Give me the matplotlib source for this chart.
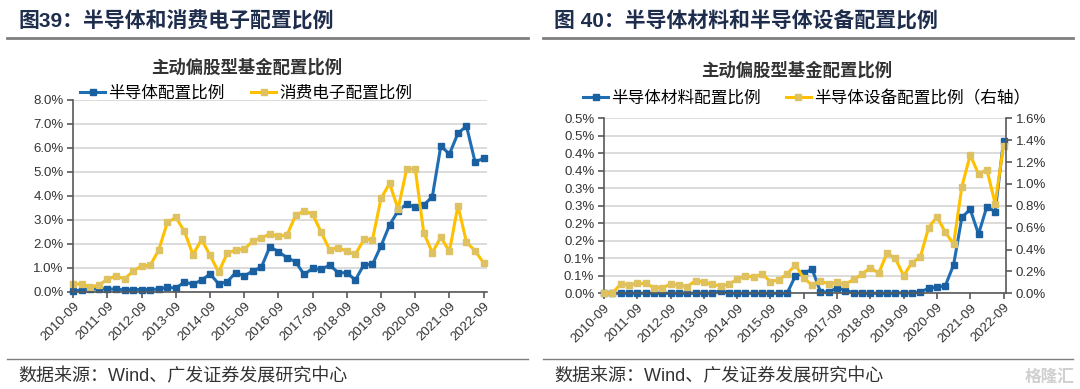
import numpy as np
import matplotlib.pyplot as plt
from matplotlib.lines import Line2D

plt.rcParams['font.family'] = ['Liberation Sans', 'Noto Sans CJK SC']

W, H = 1080, 389

dates = ['2010-09', '2011-09', '2012-09', '2013-09', '2014-09', '2015-09', '2016-09',
         '2017-09', '2018-09', '2019-09', '2020-09', '2021-09', '2022-09']

# 图39 (%)
semi = [0.03, 0.07, 0.10, 0.12, 0.12, 0.10, 0.08, 0.09, 0.09, 0.09,
        0.11, 0.18, 0.15, 0.40, 0.31, 0.48, 0.74, 0.33, 0.41, 0.80,
        0.65, 0.87, 1.02, 1.88, 1.67, 1.42, 1.25, 0.72, 0.97, 0.93,
        1.11, 0.79, 0.79, 0.49, 1.13, 1.14, 1.91, 2.78, 3.38, 3.66,
        3.52, 3.62, 3.96, 6.09, 5.74, 6.61, 6.91, 5.42, 5.56]
consumer = [0.31, 0.33, 0.18, 0.28, 0.52, 0.66, 0.53, 0.86, 1.08, 1.10,
            1.74, 2.89, 3.10, 2.52, 1.54, 2.18, 1.52, 0.81, 1.60, 1.74,
            1.77, 2.11, 2.26, 2.39, 2.32, 2.36, 3.18, 3.37, 3.23, 2.48,
            1.74, 1.84, 1.68, 1.56, 2.18, 2.17, 3.89, 4.52, 3.45, 5.12,
            5.13, 2.46, 1.63, 2.28, 1.68, 3.59, 2.06, 1.71, 1.20]

# 图40 (%)
material = [0, 0, 0, 0, 0, 0, 0, 0, 0, 0,
            0, 0, 0, 0, 0.008, 0, 0, 0, 0, 0,
            0, 0, 0, 0.05, 0.057, 0.069, 0.005, 0.003, 0.016, 0.008,
            0.002, 0, 0, 0, 0, 0, 0.002, 0, 0.004, 0.014,
            0.018, 0.021, 0.081, 0.217, 0.24, 0.169, 0.248, 0.233, 0.435]
equipment = [0, 0, 0.085, 0.076, 0.09, 0.09, 0.052, 0.052, 0.082, 0.076,
             0.061, 0.116, 0.10, 0.082, 0.067, 0.082, 0.128, 0.16, 0.146, 0.177,
             0.107, 0.122, 0.177, 0.259, 0.137, 0.076, 0.113, 0.085, 0.10, 0.082,
             0.128, 0.174, 0.235, 0.183, 0.366, 0.32, 0.16, 0.28, 0.33, 0.60,
             0.70, 0.56, 0.45, 0.975, 1.265, 1.09, 1.13, 0.82, 1.35]

left_ticks_r = ['0.0%', '0.1%', '0.1%', '0.2%', '0.2%', '0.3%', '0.3%', '0.4%', '0.4%', '0.5%', '0.5%']

BLUE = '#1F6DB3'
BLUE_M = '#1A5FA0'
YEL = '#FFC000'
YEL_M = '#DEC262'
GRID = '#D9D9D9'
SPINE = '#595959'
TITLE_C = '#1F2D4D'
TXT = '#333333'

fig = plt.figure(figsize=(W / 100, H / 100), dpi=100)


def box(x0, y0, x1, y1):
    return [x0 / W, 1 - y1 / H, (x1 - x0) / W, (y1 - y0) / H]


def ftext(x, y, s, **kw):
    fig.text(x / W, 1 - y / H, s, **kw)


def hline(x0, x1, y, lw, c):
    fig.add_artist(Line2D([x0 / W, x1 / W], [1 - y / H, 1 - y / H], color=c, lw=lw))


def style(ax):
    for s in ['top', 'right']:
        ax.spines[s].set_visible(False)
    for s in ['left', 'bottom']:
        ax.spines[s].set_color(SPINE)
        ax.spines[s].set_linewidth(1.2)
    ax.grid(axis='y', color=GRID, lw=1.3)
    ax.set_axisbelow(True)
    ax.set_xticks(np.arange(0, 49, 4))
    ax.set_xticklabels(dates, rotation=45, ha='right', rotation_mode='anchor', fontsize=9.5, color=TXT)
    ax.tick_params(axis='x', length=4, width=1.2, color=SPINE, pad=2)
    ax.tick_params(axis='y', length=4, width=1.2, color=SPINE, labelsize=9.5, labelcolor=TXT, pad=3)


x = np.arange(len(semi))
lkw = dict(lw=2.2, marker='s', markersize=4.2, clip_on=False)

# ---------- 图39 ----------
ax1 = fig.add_axes(box(73.3, 100, 487, 291.7))
ax1.plot(x, semi, color=BLUE, mfc=BLUE_M, mec=BLUE_M, label='半导体配置比例', **lkw)
ax1.plot(x, consumer, color=YEL, mfc=YEL_M, mec=YEL_M, label='消费电子配置比例', **lkw)
ax1.set_xlim(0, 48.4)
ax1.set_ylim(0, 8)
ax1.set_yticks(np.arange(0, 8.1, 1))
ax1.set_yticklabels([f'{v:.1f}%' for v in np.arange(0, 8.1, 1)])
style(ax1)
ax1.legend(loc='center left', bbox_to_anchor=(80 / W, 1 - 93 / H), bbox_transform=fig.transFigure,
           ncol=2, frameon=False, fontsize=12, handlelength=1.5, handletextpad=0.2,
           columnspacing=1.6, borderaxespad=0, borderpad=0)

# ---------- 图40 ----------
ax2 = fig.add_axes(box(604, 118.3, 1006, 293.3))
ax3 = ax2.twinx()
ax2.plot(x, material, color=BLUE, mfc=BLUE_M, mec=BLUE_M, **lkw)
ax3.plot(x, equipment, color=YEL, mfc=YEL_M, mec=YEL_M, **lkw)
ax2.set_xlim(0, 48.3)
ax2.set_ylim(0, 0.5)
ax2.set_yticks(np.linspace(0, 0.5, 11))
ax2.set_yticklabels(left_ticks_r)
ax3.set_ylim(0, 1.6)
ax3.set_yticks(np.linspace(0, 1.6, 9))
ax3.set_yticklabels([f'{v:.1f}%' for v in np.linspace(0, 1.6, 9)])
style(ax2)
for s in ['top', 'left', 'bottom']:
    ax3.spines[s].set_visible(False)
ax3.spines['right'].set_color(SPINE)
ax3.spines['right'].set_linewidth(1.2)
ax3.tick_params(axis='y', length=4, width=1.2, color=SPINE, labelsize=9.5, labelcolor=TXT, pad=3)
h = [Line2D([], [], color=BLUE, mfc=BLUE_M, mec=BLUE_M, lw=2.2, marker='s', markersize=4.2),
     Line2D([], [], color=YEL, mfc=YEL_M, mec=YEL_M, lw=2.2, marker='s', markersize=4.2)]
ax3.legend(h, ['半导体材料配置比例', '半导体设备配置比例（右轴）'], loc='center left',
           bbox_to_anchor=(583 / W, 1 - 98 / H), bbox_transform=fig.transFigure,
           ncol=2, frameon=False, fontsize=12, handlelength=1.5, handletextpad=0.2,
           columnspacing=1.5, borderaxespad=0, borderpad=0)

# ---------- texts ----------
ftext(18, 21, '图39：半导体和消费电子配置比例', fontsize=15, fontweight='bold', color=TITLE_C, va='center')
ftext(554, 21, '图 40：半导体材料和半导体设备配置比例', fontsize=15, fontweight='bold', color=TITLE_C, va='center')
hline(7, 528, 38, 2, '#7F7F7F')
hline(543, 1073, 38, 2, '#7F7F7F')
ftext(247, 67, '主动偏股型基金配置比例', fontsize=12.5, fontweight='bold', color=TXT, ha='center', va='center')
ftext(797, 70, '主动偏股型基金配置比例', fontsize=12.5, fontweight='bold', color=TXT, ha='center', va='center')
hline(7, 528, 359, 1, '#7F7F7F')
hline(543, 1073, 359, 1, '#7F7F7F')
ftext(18, 377, '数据来源：Wind、广发证券发展研究中心', fontsize=13, color=TXT, va='center')
ftext(554, 377, '数据来源：Wind、广发证券发展研究中心', fontsize=13, color=TXT, va='center')
ftext(1075, 377, '格隆汇', fontsize=12, fontweight='bold', color='#D0D0D0', ha='right', va='center')

fig.savefig('out.png', dpi=100)
